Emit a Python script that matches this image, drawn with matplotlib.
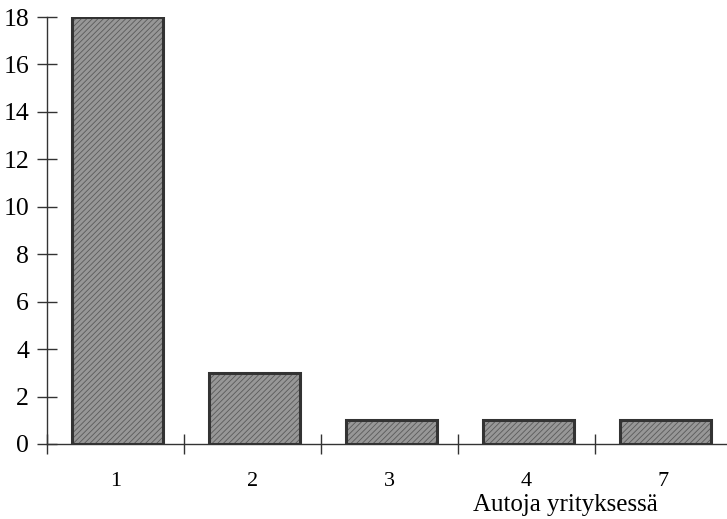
import matplotlib
matplotlib.use("Agg")
import matplotlib.pyplot as plt
import numpy as np

categories = ["1", "2", "3", "4", "7"]
values = [18, 3, 1, 1, 1]
y_ticks = [0, 2, 4, 6, 8, 10, 12, 14, 16, 18]
xlabel = "Autoja yrityksessä"

plt.rcParams['font.family'] = ['Liberation Serif', 'DejaVu Serif']
plt.rcParams['hatch.linewidth'] = 0.6

fig = plt.figure(figsize=(7.27, 5.19), dpi=100)
W, H = 727, 519
left, right, top, bottom = 47, 732, 17, 444
ax = fig.add_axes([left / W, 1 - bottom / H, (right - left) / W, (bottom - top) / H])

x = np.arange(len(categories))
ax.bar(x + 0.015, values, width=0.67, color='#979797', hatch='//////', edgecolor='#5a5a5a', linewidth=0, zorder=2)
ax.bar(x + 0.015, values, width=0.67, fill=False, edgecolor='#333333', linewidth=2.2, zorder=3)

ax.set_xlim(-0.5, len(categories) - 0.5)
ax.set_ylim(0, 18)
ax.set_yticks(y_ticks)
ax.set_yticklabels([str(v) for v in y_ticks], fontsize=18.5)
ax.set_xticks(x)
ax.set_xticklabels(categories, fontsize=16)
ax.set_xticks(np.arange(-0.5, len(categories) + 0.5, 1), minor=True)
ax.tick_params(axis='x', which='major', length=0, pad=20)
ax.tick_params(axis='x', which='minor', direction='inout', length=14, width=1, color='#333')
ax.tick_params(axis='y', direction='inout', length=14, width=1, color='#333', pad=6)

for s in ['top', 'right']:
    ax.spines[s].set_visible(False)
for s in ['left', 'bottom']:
    ax.spines[s].set_color('#333')
    ax.spines[s].set_linewidth(1)
ax.spines['bottom'].set_clip_on(False)

fig.text(565 / W, 1 - 505 / H, xlabel, fontsize=18, ha='center', va='center')

fig.savefig("out.png", dpi=100)
